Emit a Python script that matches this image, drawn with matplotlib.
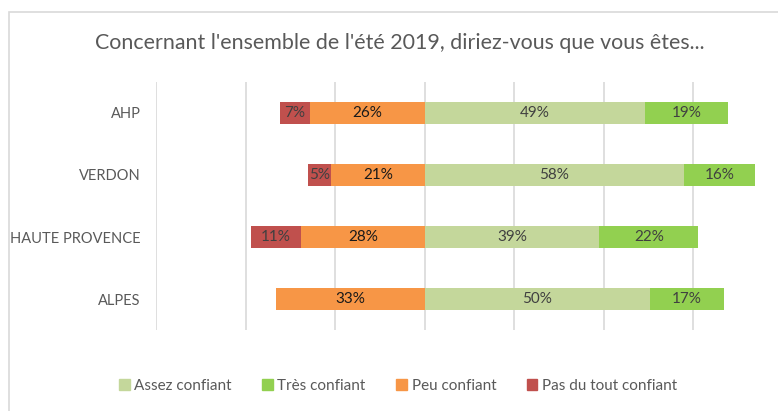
import matplotlib
matplotlib.use("Agg")
from matplotlib import pyplot as plt
from matplotlib.patches import Rectangle, Patch
import numpy as np

plt.rcParams["font.family"] = ["Lato", "DejaVu Sans"]

# ----------------------
# Data (percent)
# ----------------------
categories = ["AHP", "VERDON", "HAUTE PROVENCE", "ALPES"]
assez = [49.2, 58.1, 39.1, 50.3]
tres = [18.6, 15.7, 22.1, 16.6]
peu = [25.6, 20.8, 27.6, 33.1]
pas_du_tout = [6.7, 5.2, 11.1, 0.0]

series_names = ["Assez confiant", "Très confiant", "Peu confiant", "Pas du tout confiant"]
colors = ["#C4D79B", "#92D050", "#F79646", "#C0504D"]

W, H = 778, 411
fig = plt.figure(figsize=(W / 100, H / 100), dpi=100)

# chart border (runs off the right/bottom edge like the screenshot)
fig.patches.append(Rectangle((8.5 / W, -0.1), 1.2, 1 - 12.5 / H + 0.1,
                             transform=fig.transFigure, fill=False,
                             edgecolor="#D9D9D9", lw=1.2))

ax = fig.add_axes([156 / W, 81 / H, 626.5 / W, 248 / H])

y = np.arange(len(categories))
h = 0.37

assez = np.array(assez)
tres = np.array(tres)
peu = np.array(peu)
pas_du_tout = np.array(pas_du_tout)

ax.barh(y, assez, left=0, height=h, color=colors[0], zorder=3)
ax.barh(y, tres, left=assez, height=h, color=colors[1], zorder=3)
ax.barh(y, -peu, left=0, height=h, color=colors[2], zorder=3)
ax.barh(y, -pas_du_tout, left=-peu, height=h, color=colors[3], zorder=3)

lab = dict(ha="center", va="center", fontsize=11, zorder=4)
for i in range(len(categories)):
    ax.text(assez[i] / 2, y[i], "%.0f%%" % assez[i], color="#404040", **lab)
    ax.text(assez[i] + tres[i] / 2, y[i], "%.0f%%" % tres[i], color="#404040", **lab)
    ax.text(-peu[i] / 2, y[i], "%.0f%%" % peu[i], color="#1a1a1a", **lab)
    if pas_du_tout[i] > 0:
        ax.text(-peu[i] - pas_du_tout[i] / 2, y[i], "%.0f%%" % pas_du_tout[i],
                color="#404040", **lab)

ax.set_xlim(-60, 80)
ax.set_ylim(3.5, -0.5)
ax.set_xticks([-60, -40, -20, 0, 20, 40, 60])
ax.grid(axis="x", color="#D9D9D9", lw=1.2, zorder=0)
ax.set_xticklabels([])
ax.tick_params(axis="x", length=0)
ax.set_yticks(y)
ax.set_yticklabels(categories, fontsize=10.5, color="#595959")
ax.tick_params(axis="y", length=0, pad=11)
for s in ax.spines.values():
    s.set_visible(False)
ax.patch.set_alpha(0)

fig.text(400 / W, 1 - 43 / H, "Concernant l'ensemble de l'été 2019, diriez-vous que vous êtes...",
         ha="center", va="center", fontsize=15.4, color="#595959")

handles = [Patch(color=c, label=n) for c, n in zip(colors, series_names)]
fig.legend(handles=handles, loc="center", bbox_to_anchor=(398 / W, 1 - 386 / H),
           ncol=4, frameon=False, fontsize=11, labelcolor="#595959",
           handlelength=0.7, handleheight=0.7, handletextpad=0.3, columnspacing=2.0)

fig.savefig("out.png", dpi=100)
